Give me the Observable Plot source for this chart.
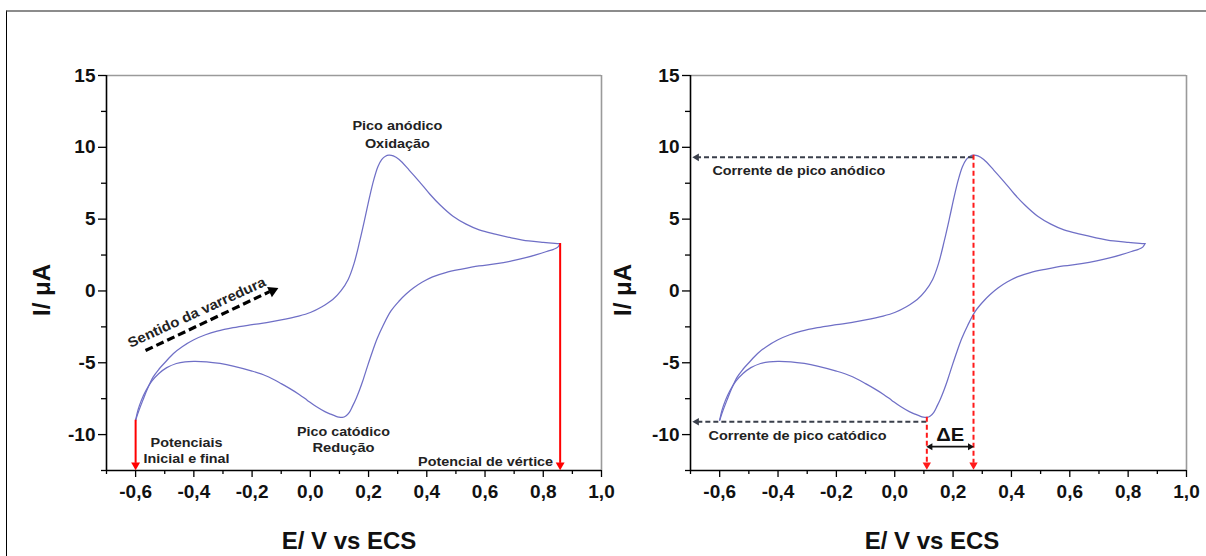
<!DOCTYPE html>
<html>
<head>
<meta charset="utf-8">
<script src="https://cdn.jsdelivr.net/npm/d3@7"></script>
<script src="https://cdn.jsdelivr.net/npm/@observablehq/plot@0.6"></script>
<style>
  html, body { margin: 0; padding: 0; background: #fff; }
  #page { position: relative; width: 1206px; height: 556px; overflow: hidden; background: #fff; font-family: "Liberation Sans", Arial, sans-serif; }
  #caption { position: absolute; left: 8px; top: -19px; font: 16px "Liberation Serif", "Times New Roman", serif; white-space: nowrap; color: #000; }
  #border { position: absolute; left: 6px; top: 10px; width: 1300px; height: 700px; border-top: 2px solid #8c8c8c; border-left: 1px solid #000; }
  #a { position: absolute; left: 0; top: 0; }
  #b { position: absolute; left: 600px; top: 0; }
</style>
</head>
<body>
<div id="page">
  <div id="caption"><b>Figura 6 –</b> Diagrama esquemático de um voltamograma cíclico: (a) potenciais e picos de oxidação e redução; (b) correntes de pico e separação ΔE</div>
  <div id="border"></div>
  <div id="a"></div>
  <div id="b"></div>
</div>
<script>
// ---- Data ----
const E_fwd = [-0.600,-0.590,-0.575,-0.560,-0.540,-0.520,-0.500,-0.470,-0.440,-0.400,-0.360,-0.320,-0.265,-0.200,-0.150,-0.100,-0.040,0.000,0.040,0.077,0.105,0.130,0.150,0.170,0.188,0.203,0.218,0.232,0.245,0.258,0.270,0.285,0.305,0.340,0.375,0.410,0.445,0.490,0.535,0.580,0.635,0.690,0.750,0.800,0.840,0.858];
const I_fwd = [-9.00,-8.40,-7.60,-6.85,-6.00,-5.45,-5.00,-4.35,-3.88,-3.40,-3.05,-2.80,-2.56,-2.35,-2.20,-2.02,-1.75,-1.50,-1.10,-0.60,0.00,0.80,1.90,3.50,5.10,6.50,7.75,8.65,9.15,9.38,9.45,9.40,9.15,8.40,7.60,6.75,6.00,5.20,4.65,4.25,3.95,3.70,3.48,3.38,3.32,3.30];
const E_rev = [0.858,0.850,0.835,0.818,0.780,0.740,0.692,0.640,0.579,0.520,0.465,0.420,0.385,0.355,0.328,0.305,0.277,0.250,0.230,0.214,0.197,0.180,0.168,0.157,0.145,0.134,0.122,0.110,0.098,0.085,0.070,0.050,0.020,-0.010,-0.037,-0.070,-0.100,-0.151,-0.200,-0.265,-0.310,-0.356,-0.400,-0.430,-0.460,-0.493,-0.520,-0.545,-0.565,-0.580,-0.592,-0.600];
const I_rev = [3.30,3.05,2.90,2.79,2.55,2.32,2.09,1.90,1.74,1.52,1.28,0.98,0.62,0.22,-0.23,-0.70,-1.39,-2.40,-3.30,-4.18,-5.20,-6.27,-6.95,-7.50,-8.02,-8.45,-8.70,-8.80,-8.78,-8.70,-8.58,-8.40,-8.05,-7.62,-7.22,-6.80,-6.45,-5.92,-5.58,-5.23,-5.05,-4.93,-4.90,-4.93,-5.05,-5.34,-5.75,-6.30,-6.95,-7.60,-8.30,-9.00];

const xMajor = [-0.6,-0.4,-0.2,0.0,0.2,0.4,0.6,0.8,1.0];
const xMinor = [-0.7,-0.5,-0.3,-0.1,0.1,0.3,0.5,0.7,0.9];
const yMajor = [-10,-5,0,5,10,15];
const yMinor = [-12.5,-7.5,-2.5,2.5,7.5,12.5];

const xLabel = "E/ V vs ECS";
const yLabel = "I/ μA";

// ---- Derived table ----
const cv = [
  ...E_fwd.map((E, i) => ({E, I: I_fwd[i], branch: "forward"})),
  ...E_rev.map((E, i) => ({E, I: I_rev[i], branch: "reverse"}))
];
const ia = d3.maxIndex(I_fwd);
const ic = d3.minIndex(I_rev.map((v, i) => (E_rev[i] > -0.3 ? v : Infinity)));
const anodic = {E: E_fwd[ia], I: I_fwd[ia]};
const cathodic = {E: E_rev[ic], I: I_rev[ic]};
const start = {E: E_fwd[0], I: I_fwd[0]};
const vertex = {E: E_fwd[E_fwd.length - 1], I: I_fwd[I_fwd.length - 1]};

const X0 = -0.7, X1 = 1.0, Y0 = -12.5, Y1 = 15;
const FONT = "Liberation Sans, Arial, sans-serif";
const fmtX = d => d.toFixed(1).replace(".", ",");
const fmtY = d => String(d);
const curveColor = "#6f6fc6";
const annColor = "#222";
const dashColor = "#3a3f4b";

function baseMarks() {
  return [
    Plot.ruleY([Y1], {x1: X0, x2: X1, stroke: "#9a9a9a", strokeWidth: 1.6}),
    Plot.ruleX([X1], {y1: Y0, y2: Y1, stroke: "#9a9a9a", strokeWidth: 1.6}),
    Plot.axisX(xMinor, {tickSize: 4, tickFormat: () => "", label: null, stroke: "#000", strokeWidth: 1.3}),
    Plot.axisX(xMajor, {tickSize: 7, tickPadding: 7, tickFormat: fmtX, label: null, stroke: "#000", strokeWidth: 1.3, fill: "#111", fontSize: 19, fontWeight: "bold"}),
    Plot.axisY(yMinor, {tickSize: 5, tickFormat: () => "", label: null, stroke: "#000", strokeWidth: 1.3}),
    Plot.axisY(yMajor, {tickSize: 8, tickPadding: 3, tickFormat: fmtY, label: null, stroke: "#000", strokeWidth: 1.3, fill: "#111", fontSize: 19, fontWeight: "bold"}),
    Plot.ruleX([X0], {y1: Y0, y2: Y1, stroke: "#000", strokeWidth: 1.6}),
    Plot.ruleY([Y0], {x1: X0, x2: X1, stroke: "#000", strokeWidth: 1.6}),
    Plot.line(cv, {x: "E", y: "I", z: "branch", stroke: curveColor, strokeWidth: 1.25, curve: "catmull-rom"})
  ];
}

function txt(label, x, y, opts = {}) {
  return Plot.text([label], {x: () => x, y: () => y, text: d => d, fill: annColor, fontSize: 13.5, fontWeight: "bold", fontFamily: FONT, ...opts});
}

function head(x, y, rotate, color, r, dx = 0, dy = 0) {
  return Plot.dot([0], {x: () => x, y: () => y, symbol: "triangle", rotate, r, fill: color, stroke: "none", dx, dy});
}

function panel(width, marginLeft, marginRight, marks) {
  return Plot.plot({
    width, height: 556,
    marginLeft, marginRight, marginTop: 75, marginBottom: 86,
    x: {domain: [X0, X1], label: null},
    y: {domain: [Y0, Y1], label: null},
    style: {background: "transparent", fontFamily: FONT, fontSize: "19px", fontWeight: "bold", color: "#111", overflow: "visible"},
    marks: [...baseMarks(), ...marks]
  });
}

function addAxisLabels(svg, xCenter, yLabelX) {
  const s = d3.select(svg);
  s.append("text").attr("x", xCenter).attr("y", 543).attr("text-anchor", "middle").attr("dominant-baseline", "middle")
    .attr("font-family", FONT).attr("font-size", 24).attr("font-weight", "bold").attr("fill", "#111").text(xLabel);
  s.append("text").attr("transform", `translate(${yLabelX},290) rotate(-90)`).attr("text-anchor", "middle").attr("dominant-baseline", "middle")
    .attr("font-family", FONT).attr("font-size", 24).attr("font-weight", "bold").attr("fill", "#111").text(yLabel);
}

// stretch annotation texts to the widths measured on the reference
function fitWidths(svg, widths) {
  d3.select(svg).selectAll("text").each(function () {
    const w = widths[this.textContent];
    if (w) d3.select(this).attr("textLength", w).attr("lengthAdjust", "spacingAndGlyphs");
  });
}

// ---- Left panel ----
const left = panel(603, 106, 2, [
  Plot.ruleX([start.E], {y1: start.I, y2: Y0 + 0.5, stroke: "#ff0000", strokeWidth: 2}),
  head(start.E, Y0, 180, "#ff0000", 3.3, 0, -5.5),
  Plot.ruleX([vertex.E], {y1: vertex.I, y2: Y0 + 0.5, stroke: "#ff0000", strokeWidth: 2}),
  head(vertex.E, Y0, 180, "#ff0000", 3.3, 0, -5.5),
  Plot.link([0], {x1: () => -0.566, y1: () => -4.15, x2: () => -0.14, y2: () => -0.05, stroke: "#000", strokeWidth: 3.2, strokeDasharray: "8,4"}),
  head(-0.13, 0.02, 65, "#000", 4.2),
  txt("Sentido da varredura", -0.39, -1.5, {rotate: -24.7, fontSize: 14}),
  txt("Pico anódico", 0.299, 11.52),
  txt("Oxidação", 0.299, 10.26),
  txt("Pico catódico", 0.114, -9.79),
  txt("Redução", 0.114, -10.9),
  txt("Potencial de vértice", 0.602, -11.88),
  txt("Potenciais", -0.425, -10.56),
  txt("Inicial e final", -0.425, -11.67)
]);
document.getElementById("a").appendChild(left);
addAxisLabels(left, 349, 44);
fitWidths(left, {
  "Sentido da varredura": 150, "Pico anódico": 90, "Oxidação": 65, "Pico catódico": 93,
  "Redução": 62, "Potencial de vértice": 135, "Potenciais": 72, "Inicial e final": 86
});

// ---- Right panel ----
const right = panel(600, 90, 14, [
  Plot.ruleY([anodic.I - 0.15], {x1: anodic.E, x2: -0.672, stroke: dashColor, strokeWidth: 2, strokeDasharray: "5,3"}),
  head(-0.672, anodic.I - 0.15, -90, dashColor, 2.8, -2, 0),
  Plot.ruleY([cathodic.I - 0.3], {x1: cathodic.E, x2: -0.672, stroke: dashColor, strokeWidth: 2, strokeDasharray: "5,3"}),
  head(-0.672, cathodic.I - 0.3, -90, dashColor, 2.8, -2, 0),
  txt("Corrente de pico anódico", -0.625, 8.38, {textAnchor: "start"}),
  txt("Corrente de pico catódico", -0.638, -10.07, {textAnchor: "start"}),
  Plot.ruleX([anodic.E], {y1: anodic.I, y2: Y0 + 0.5, stroke: "#ff1a1a", strokeWidth: 2, strokeDasharray: "5,3"}),
  head(anodic.E, Y0, 180, "#ff1a1a", 3.1, 0, -5.5),
  Plot.ruleX([cathodic.E], {y1: cathodic.I, y2: Y0 + 0.5, stroke: "#ff1a1a", strokeWidth: 2, strokeDasharray: "5,3"}),
  head(cathodic.E, Y0, 180, "#ff1a1a", 3.1, 0, -5.5),
  Plot.ruleY([-10.84], {x1: cathodic.E + 0.015, x2: anodic.E - 0.015, stroke: "#111", strokeWidth: 1.6}),
  head(cathodic.E, -10.84, -90, "#111", 2.6, 3.5, 0),
  head(anodic.E, -10.84, 90, "#111", 2.6, -3.5, 0),
  txt("ΔE", (anodic.E + cathodic.E) / 2, -10.07, {fontSize: 18, fill: "#111"})
]);
document.getElementById("b").appendChild(right);
addAxisLabels(right, 332, 25);
fitWidths(right, {
  "Corrente de pico anódico": 173, "Corrente de pico catódico": 178, "ΔE": 28
});
</script>
</body>
</html>
